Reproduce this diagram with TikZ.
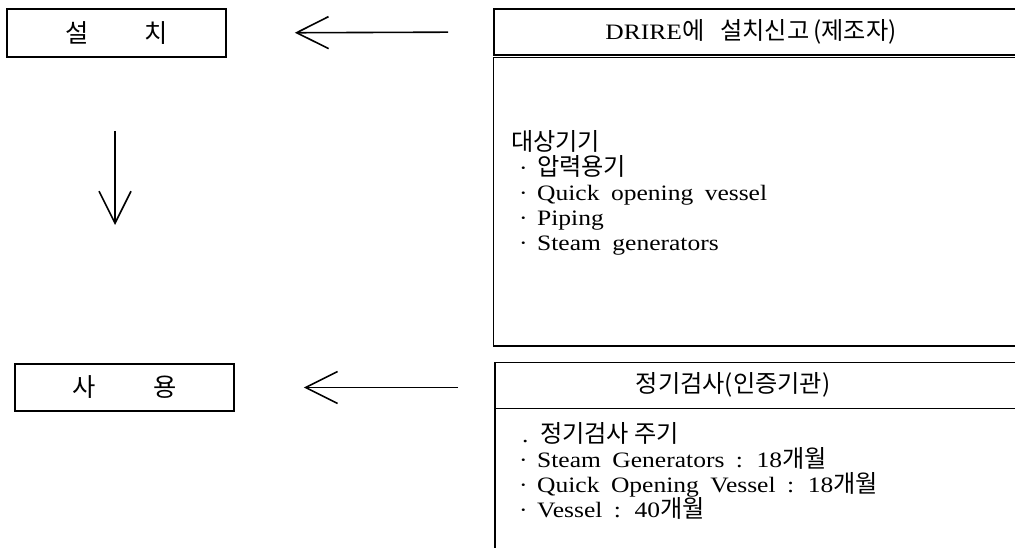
\documentclass[tikz,border=0pt]{standalone}
\usepackage{fontspec}
\setmainfont{Liberation Serif}[FakeStretch=1.16, WordSpace=1.8]
\newfontfamily\kr{Noto Sans CJK KR}[Scale=1.1]
\newcommand\K[1]{{\kr #1}}
\usetikzlibrary{arrows.meta}
\begin{document}
\begin{tikzpicture}[x=1pt,y=-1pt,
  box/.style={draw, line width=1.6pt, inner sep=0pt},
  title/.style={inner sep=0pt, font=\fontsize{23}{26}\selectfont},
  hdr/.style={inner sep=0pt, font=\fontsize{22}{25}\selectfont},
  item/.style={anchor=base west, inner sep=0pt, font=\fontsize{22}{25}\selectfont},
  arr/.style={line width=1.6pt, -{Straight Barb[length=32pt,width=32pt]}}]
\useasboundingbox (0,0) rectangle (1015,548);
\clip (0,0) rectangle (1015,548);

% left boxes
\node[box, minimum width=219pt, minimum height=48pt] (install) at (116.5,33) {};
\node[title] (installT) at (install.center) {\K{설}\hspace{56pt}\K{치}};
\node[box, minimum width=219pt, minimum height=47pt] (use) at (124.5,387.5) {};
\node[title] (useT) at (use.center) {\K{사}\hspace{58pt}\K{용}};

% right upper boxes
\draw[box] (494,9) rectangle (1040,55);
\coordinate (drire) at (494,32);
\draw[box] (493.5,57.5) rectangle (1040,345.7);
\node[hdr] (drireT) at (751,32) {DRIRE\K{에}\hspace{16pt}\K{설치신고\,(제조자)}};

% right lower boxes
\draw[box] (495,362.3) rectangle (1040,408.3);
\coordinate (insp) at (495,385);
\draw[box] (495,408.3) rectangle (1040,570);
\node[hdr] (inspT) at (733,385) {\K{정기검사(인증기관)}};

% items upper
\node[item] (u0) at (511,151) {\K{대상기기}};
\node[item] (u1) at (519,176) {\makebox[18pt][l]{·}\K{압력용기}};
\node[item] (u2) at (519,201) {\makebox[18pt][l]{·}Quick opening vessel};
\node[item] (u3) at (519,226) {\makebox[18pt][l]{·}Piping};
\node[item] (u4) at (519,251) {\makebox[18pt][l]{·}Steam generators};

% items lower
\node[item] (v0) at (522,442) {\makebox[18pt][l]{.}\K{정기검사 주기}};
\node[item] (v1) at (519,467) {\makebox[18pt][l]{·}Steam Generators : 18\K{개월}};
\node[item] (v2) at (519,492) {\makebox[18pt][l]{·}Quick Opening Vessel : 18\K{개월}};
\node[item] (v3) at (519,517) {\makebox[18pt][l]{·}Vessel : 40\K{개월}};

% arrows
\draw[arr, shorten <=46pt, shorten >=68pt] (drire) -- (install.east);
\draw[arr, shorten <=37pt, shorten >=69pt] (use.east -| insp) -- (use.east);
\coordinate (d1) at (115,131);
\coordinate (d2) at (115,225);
\draw[arr] (d1) -- (d2);
\end{tikzpicture}
\end{document}
